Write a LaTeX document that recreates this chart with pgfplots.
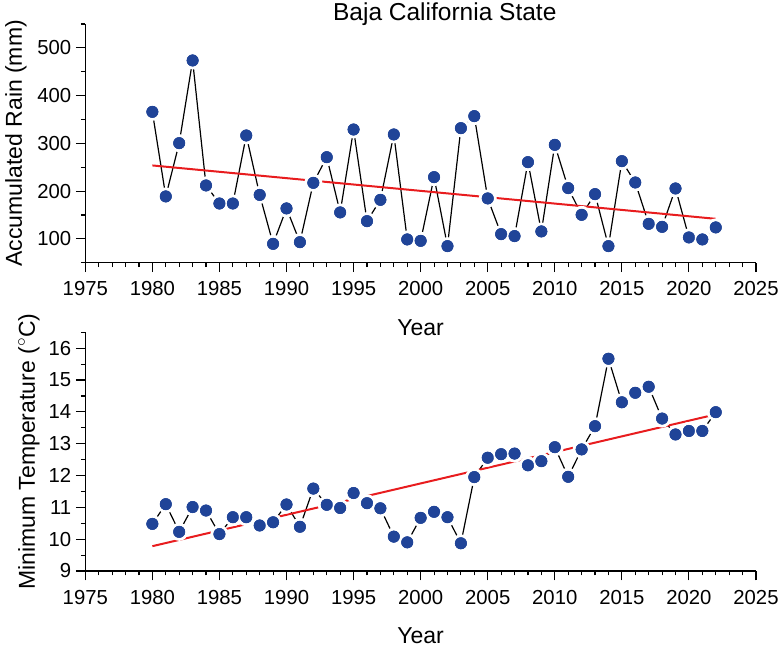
\documentclass[border=0pt]{standalone}
\usepackage{fontspec}
\setmainfont{Liberation Sans}
\usepackage{pgfplots}
\pgfplotsset{compat=1.18}
\definecolor{dotblue}{RGB}{32,68,152}
\definecolor{trendred}{RGB}{232,28,30}
\pgfplotsset{
 base/.style={
  scale only axis, width=670.7bp, height=238.7bp,
  axis lines*=left, axis line style={line width=1.2bp, black},
  tick align=outside, tick style={line width=1.1bp, black},
  major tick length=9.5bp, minor tick length=4.5bp,
  xmin=1975, xmax=2025, xtick={1975,1980,...,2025}, minor x tick num=4,
  /pgf/number format/assume math mode=true,
  /pgf/number format/1000 sep={},
  tick label style={font=\fontsize{20.3bp}{24bp}\selectfont},
  xticklabel style={yshift=-6bp},
  yticklabel style={xshift=-1bp},
  label style={font=\fontsize{23bp}{27bp}\selectfont},
  xlabel={Year},
  xlabel style={at={(axis description cs:0.5,-0.303)}, anchor=base},
  clip=false,
 },
 data/.style={black, line width=1.2bp, mark=*, mark size=7.5bp,
   mark options={fill=dotblue, draw=white, line width=3bp}},
 dots/.style={only marks, color=dotblue, mark=*, mark size=5.8bp,
   mark options={fill=dotblue, draw=dotblue, line width=0.4bp}},
 trend/.style={trendred, line width=2bp, no marks},
}
\pgfplotstableread{
year rain
1980 366
1981 188.8
1982 300.4
1983 473.6
1984 211.8
1985 174
1986 174
1987 316.5
1988 192
1989 89.5
1990 163.7
1991 93
1992 217.3
1993 271
1994 155.3
1995 329
1996 137
1997 181.7
1998 318.6
1999 98.7
2000 95.8
2001 229.2
2002 84.7
2003 331.8
2004 357
2005 184.6
2006 109.8
2007 105.7
2008 260.6
2009 115.5
2010 296.9
2011 206.2
2012 150.3
2013 193.6
2014 84.7
2015 262.7
2016 218
2017 131.4
2018 125.1
2019 205.5
2020 102.9
2021 98.7
2022 123.9
}\raintable
\pgfplotstableread{
year tmin
1980 10.48
1981 11.10
1982 10.23
1983 11.01
1984 10.90
1985 10.16
1986 10.69
1987 10.69
1988 10.43
1989 10.53
1990 11.09
1991 10.39
1992 11.59
1993 11.08
1994 10.98
1995 11.45
1996 11.13
1997 10.97
1998 10.08
1999 9.90
2000 10.67
2001 10.86
2002 10.69
2003 9.87
2004 11.95
2005 12.56
2006 12.67
2007 12.69
2008 12.32
2009 12.45
2010 12.89
2011 11.96
2012 12.82
2013 13.55
2014 15.67
2015 14.30
2016 14.60
2017 14.79
2018 13.79
2019 13.29
2020 13.40
2021 13.40
2022 13.99
}\temptable
\begin{document}
\begin{tikzpicture}
\path[use as bounding box] (0,0) rectangle (782bp,647bp);
\begin{axis}[base, at={(85.3bp,384.3bp)}, anchor=south west,
  ymin=50, ymax=550, ytick={100,200,...,500}, minor ytick={50,150,...,550},
  ylabel={Accumulated Rain (mm)},
  ylabel style={at={(axis description cs:-0.1033,0.5)}, anchor=center},
  title={Baja California State},
  title style={at={(axis description cs:0.536,0.9916)}, anchor=base, font=\fontsize{24.5bp}{28bp}\selectfont}]
\addplot[data] table[x=year, y=rain] {\raintable};
\addplot[trend] coordinates {(1980,253.7) (2022,141.9)};
\addplot[dots] table[x=year, y=rain] {\raintable};
\end{axis}
\begin{axis}[base, at={(85.3bp,76bp)}, anchor=south west,
  ymin=9, ymax=16.5, ytick={9,10,...,16}, minor ytick={9.5,10.5,...,16.5},
  ylabel={Minimum Temperature ($^\circ$C)},
  ylabel style={at={(axis description cs:-0.0839,0.5)}, anchor=center}]
\addplot[data] table[x=year, y=tmin] {\temptable};
\addplot[trend] coordinates {(1980,9.78) (2022,13.92)};
\addplot[dots] table[x=year, y=tmin] {\temptable};
\end{axis}
\end{tikzpicture}
\end{document}
